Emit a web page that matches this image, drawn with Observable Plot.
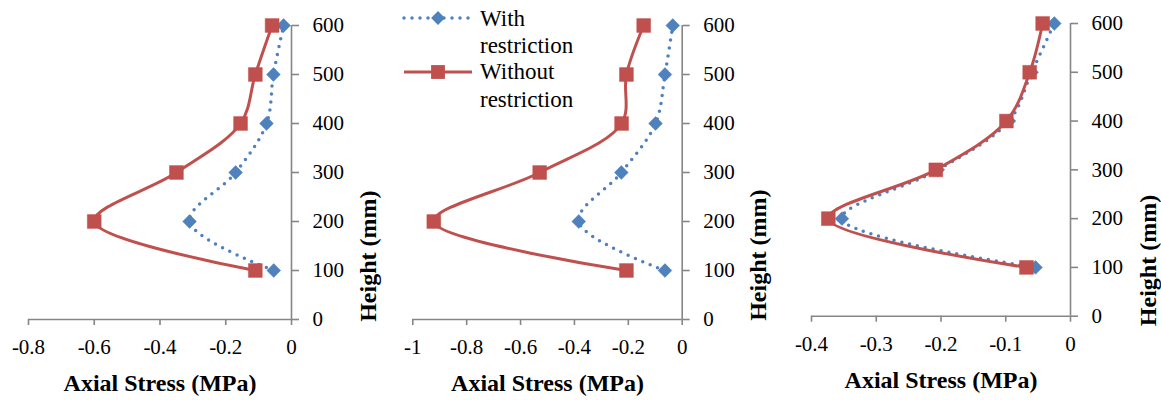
<!DOCTYPE html>
<html>
<head>
<meta charset="utf-8">
<script src="https://cdn.jsdelivr.net/npm/d3@7"></script>
<script src="https://cdn.jsdelivr.net/npm/@observablehq/plot@0.6"></script>
</head>
<body style="margin:0;background:#fff;font-family:'Liberation Serif'">
<div id="wrap" style="position:relative;width:1161px;height:400px;font-family:'Liberation Serif'"></div>
<script>
// ---- data ----
const heights = [100, 200, 300, 400, 500, 600];
const seriesNames = ["With restriction", "Without restriction"];

const with1 = [-0.054, -0.31, -0.17, -0.076, -0.055, -0.024];
const without1 = [-0.11, -0.60, -0.35, -0.155, -0.11, -0.059];

const with2 = [-0.064, -0.384, -0.226, -0.099, -0.064, -0.035];
const without2 = [-0.207, -0.922, -0.529, -0.225, -0.207, -0.143];

const with3 = [-0.054, -0.353, -0.205, -0.095, -0.060, -0.025];
const without3 = [-0.068, -0.374, -0.208, -0.099, -0.063, -0.043];

const xTicks1 = [-0.8, -0.6, -0.4, -0.2, 0];
const xTicks2 = [-1, -0.8, -0.6, -0.4, -0.2, 0];
const xTicks3 = [-0.4, -0.3, -0.2, -0.1, 0];
const yTicks = [0, 100, 200, 300, 400, 500, 600];

const xLabel = "Axial Stress (MPa)";
const yLabel = "Height (mm)";

// ---- styles ----
const BLUE = "#4F81BD";
const RED = "#C0504D";
const AXIS = "#868686";

function makePanel(cfg) {
  const dWith = heights.map((h, i) => ({h, v: cfg.withV[i]}));
  const dWithout = heights.map((h, i) => ({h, v: cfg.withoutV[i]}));
  const svg = Plot.plot({
    width: cfg.width,
    height: 400,
    marginLeft: cfg.ml,
    marginRight: cfg.mr,
    marginTop: cfg.mt,
    marginBottom: cfg.mb,
    style: "font-family:'Liberation Serif';font-size:21px;color:#000;background:transparent;overflow:visible",
    x: {domain: cfg.domain},
    y: {domain: [0, 600]},
    marks: [
      Plot.ruleY([0], {stroke: AXIS, strokeWidth: 1.6}),
      Plot.ruleX([0], {stroke: AXIS, strokeWidth: 1.6}),
      Plot.axisX({ticks: cfg.ticks, tickFormat: d => String(d), tickSize: 6, tickPadding: 14, stroke: AXIS, strokeWidth: 1.6, strokeOpacity: 1, fill: "#000", label: null}),
      Plot.axisY({anchor: "right", ticks: yTicks, tickFormat: d => String(d), tickSize: 7, tickPadding: 14, stroke: AXIS, strokeWidth: 1.6, strokeOpacity: 1, fill: "#000", label: null}),
      Plot.line(dWith, {x: "v", y: "h", curve: "catmull-rom", stroke: BLUE, strokeWidth: 3.5, strokeDasharray: "0 8", strokeLinecap: "round"}),
      Plot.dot(dWith, {x: "v", y: "h", symbol: "diamond2", r: 6.2, fill: BLUE, stroke: BLUE, strokeWidth: 0.5}),
      Plot.line(dWithout, {x: "v", y: "h", curve: "catmull-rom", stroke: RED, strokeWidth: 3}),
      Plot.dot(dWithout, {x: "v", y: "h", symbol: "square", r: 7.8, fill: RED, stroke: RED, strokeWidth: 0.5}),
      Plot.text([xLabel], {frameAnchor: "bottom", dy: cfg.xdy, fontWeight: "bold", fontSize: 24, fontFamily: "Liberation Serif", lineAnchor: "middle", fill: "#000"}),
      Plot.text([yLabel], {frameAnchor: "right", rotate: -90, dx: cfg.ydx, dy: cfg.ydy, fontWeight: "bold", fontSize: 24, fontFamily: "Liberation Serif", lineAnchor: "middle", fill: "#000"})
    ]
  });
  svg.querySelectorAll("g[aria-label='x-axis tick label'], g[aria-label='y-axis tick label']").forEach(g => g.setAttribute("font-family", "Liberation Serif"));
  return svg;
}

const wrap = document.getElementById("wrap");
const panels = [
  {left: 0, width: 387, ml: 28, mr: 96, mt: 25, mb: 81, domain: [-0.8, 0], ticks: xTicks1, withV: with1, withoutV: without1, xdy: 64, ydx: 77, ydy: 18},
  {left: 387, width: 387, ml: 25.3, mr: 92.3, mt: 25, mb: 81, domain: [-1, 0], ticks: xTicks2, withV: with2, withoutV: without2, xdy: 64, ydx: 76, ydy: 17},
  {left: 774, width: 387, ml: 37, mr: 91, mt: 23, mb: 84.3, domain: [-0.4, 0], ticks: xTicks3, withV: with3, withoutV: without3, xdy: 64, ydx: 78, ydy: 25}
];
for (const p of panels) {
  const div = document.createElement("div");
  div.setAttribute("style", "position:absolute;top:0;left:" + p.left + "px;font-family:'Liberation Serif'");
  div.appendChild(makePanel(p));
  wrap.appendChild(div);
}

// ---- legend (in the middle panel, top-left) ----
function swatch(top, color, dashed, symbol) {
  const ns = "http://www.w3.org/2000/svg";
  const svg = document.createElementNS(ns, "svg");
  svg.setAttribute("width", 80);
  svg.setAttribute("height", 24);
  svg.setAttribute("style", "position:absolute;left:400px;top:" + (top - 12) + "px");
  const line = document.createElementNS(ns, "line");
  line.setAttribute("x1", 4); line.setAttribute("x2", 72);
  line.setAttribute("y1", 12); line.setAttribute("y2", 12);
  line.setAttribute("stroke", color);
  line.setAttribute("stroke-width", dashed ? 3.5 : 3);
  if (dashed) { line.setAttribute("stroke-dasharray", "0 8"); line.setAttribute("stroke-linecap", "round"); }
  svg.appendChild(line);
  const path = document.createElementNS(ns, "path");
  const sym = symbol === "square" ? d3.symbolSquare : d3.symbolDiamond2;
  const r = symbol === "square" ? 7.8 : 6.2;
  path.setAttribute("d", d3.symbol(sym, Math.PI * r * r)());
  path.setAttribute("transform", "translate(38,12)");
  path.setAttribute("fill", color);
  svg.appendChild(path);
  wrap.appendChild(svg);
}
swatch(18.3, BLUE, true, "diamond");
swatch(71.7, RED, false, "square");

const legLines = [
  ["With", 4.9], ["restriction", 32.2], ["Without", 57.5], ["restriction", 85.5]
];
for (const [t, top] of legLines) {
  const d = document.createElement("div");
  d.setAttribute("style", "position:absolute;left:480px;top:" + top + "px;font-family:'Liberation Serif';font-size:23px;line-height:28px;color:#000;white-space:nowrap");
  d.textContent = t;
  wrap.appendChild(d);
}
</script>
</body>
</html>
